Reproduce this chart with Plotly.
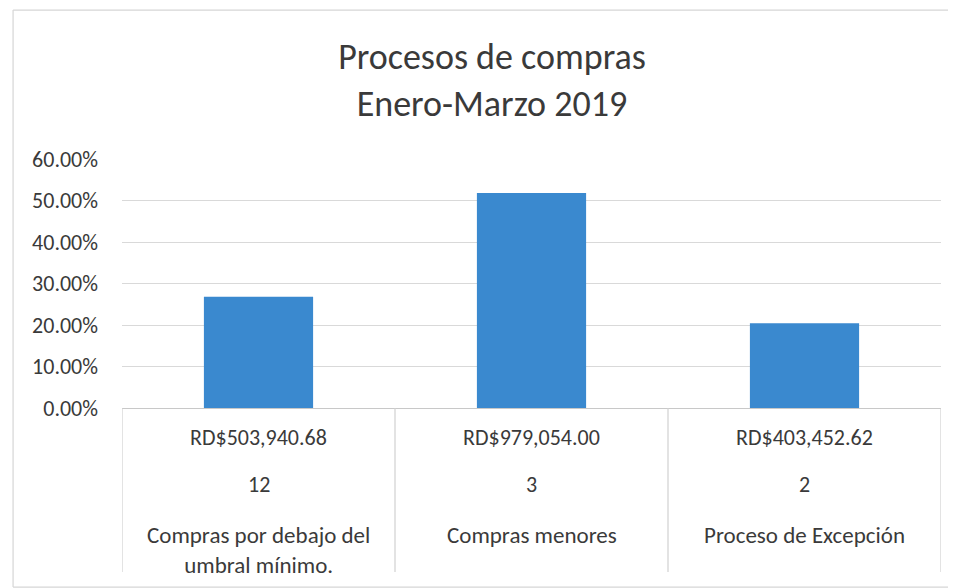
import plotly.graph_objects as go

categories = ["Compras por debajo del<br>umbral mínimo.", "Compras menores", "Proceso de Excepción"]
amounts = ["RD$503,940.68", "RD$979,054.00", "RD$403,452.62"]
counts = ["12", "3", "2"]
shares = [0.268, 0.518, 0.204]
y_ticks = [0, 0.1, 0.2, 0.3, 0.4, 0.5, 0.6]

FONT = "Carlito, Lato, 'Open Sans', sans-serif"
TXT = "#3a3a3a"
BAR = "#3a89cf"

xs = list(range(len(categories)))

fig = go.Figure()
fig.add_trace(go.Bar(x=xs, y=shares, marker=dict(color=BAR, line=dict(width=0)),
                     width=0.4, hoverinfo="skip"))

annotations = []
for i in xs:
    annotations.append(dict(x=i, y=-0.120, xref="x", yref="paper", text=amounts[i],
                            showarrow=False, font=dict(family=FONT, size=22, color=TXT),
                            yanchor="middle"))
    annotations.append(dict(x=i, y=-0.309, xref="x", yref="paper", text=counts[i],
                            showarrow=False, font=dict(family=FONT, size=22, color=TXT),
                            yanchor="middle"))
    annotations.append(dict(x=i, y=-0.446, xref="x", yref="paper", text=categories[i],
                            showarrow=False, font=dict(family=FONT, size=23, color=TXT),
                            yanchor="top", align="center"))

shapes = []
for b in [-0.5, 0.5, 1.5, 2.5]:
    shapes.append(dict(type="line", xref="x", yref="paper", x0=b, x1=b, y0=0, y1=-0.659,
                       line=dict(color="#d0d0d0", width=1.2)))
# outer chart border (left, top, bottom; right edge lies outside the picture)
border = dict(color="#d6d6d6", width=1.2)
shapes.append(dict(type="line", xref="paper", yref="paper", x0=-0.133, x1=-0.133,
                   y0=-0.719, y1=1.598, line=border))
shapes.append(dict(type="line", xref="paper", yref="paper", x0=-0.133, x1=1.1,
                   y0=1.598, y1=1.598, line=border))
shapes.append(dict(type="line", xref="paper", yref="paper", x0=-0.133, x1=1.1,
                   y0=-0.719, y1=-0.719, line=border))

fig.update_layout(
    width=948, height=580,
    margin=dict(l=114, r=15, t=151, b=180),
    paper_bgcolor="white", plot_bgcolor="white",
    showlegend=False,
    title=dict(text="Procesos de compras<br>Enero-Marzo 2019", x=0.5105, xanchor="center",
               y=0.894, yanchor="middle", font=dict(family=FONT, size=36, color=TXT)),
    xaxis=dict(range=[-0.5, 2.5], showticklabels=False, showgrid=False, zeroline=False,
               showline=False, ticks="", fixedrange=True),
    yaxis=dict(range=[0, 0.6], tickvals=y_ticks, tickformat=".2%",
               showgrid=True, gridcolor="#d9d9d9", gridwidth=1.2,
               zeroline=True, zerolinecolor="#c8c8c8", zerolinewidth=1.2,
               showline=False, ticks="", ticklabelstandoff=23,
               tickfont=dict(family=FONT, size=22, color=TXT)),
    annotations=annotations,
    shapes=shapes,
    bargap=0.6,
)

fig.write_html("out.html")
